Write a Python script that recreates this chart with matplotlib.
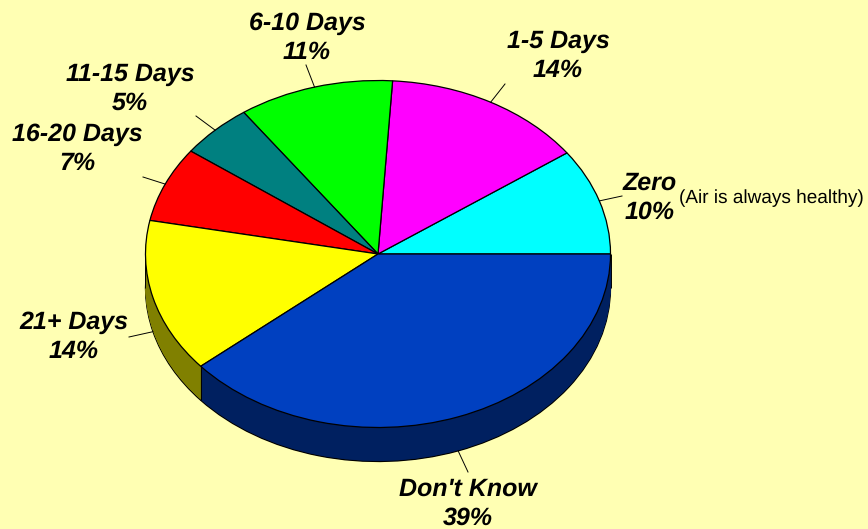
import numpy as np
import matplotlib
matplotlib.use("Agg")
import matplotlib.pyplot as plt
from matplotlib.colors import to_rgb

categories = ["Zero", "1-5 Days", "6-10 Days", "11-15 Days", "16-20 Days", "21+ Days", "Don't Know"]
values = [9.9, 14.1, 10.8, 5.1, 7.0, 14.3, 38.8]
colors = ["#00FFFF", "#FF00FF", "#00FF00", "#008080", "#FF0000", "#FFFF00", "#0040C0"]
pct_labels = ["10%", "14%", "11%", "5%", "7%", "14%", "39%"]
note = "(Air is always healthy)"

W, H = 868, 529
BG = "#FFFFB3"
CX, CY, RX, RY, DEPTH = 378, 254, 232.5, 173.5, 34

# label centres (pixels) and leader outer ends (pixels)
label_pos = [(650, 183), (558, 41), (307, 23), (130, 74), (77, 134), (74, 322), (468, 489)]
leader_end = [(622, 196), (505, 84), (306, 65), (196, 116), (143, 177), (129, 337), (468, 472)]

plt.rcParams["font.family"] = ["Liberation Sans", "DejaVu Sans"]
plt.rcParams["text.hinting"] = "none"
plt.rcParams["text.hinting_factor"] = 1
fig = plt.figure(figsize=(W / 100, H / 100), dpi=100, facecolor=BG)
ax = fig.add_axes([0, 0, 1, 1])

def X(px):
    return (px - CX) / RX

def Y(py):
    return (CY - py) / RY

d = DEPTH / RY
dark = [tuple(c * 0.5 for c in to_rgb(col)) for col in colors]

# side wall: bottom outline, then stacked fill layers
ax.pie(values, colors=dark, startangle=0, center=(0, -d), radius=1,
       wedgeprops=dict(edgecolor="black", linewidth=0.9), frame=True)
for off in np.linspace(d - 0.004, 0.004, DEPTH * 2):
    ax.pie(values, colors=dark, startangle=0, center=(0, -off), radius=1,
           wedgeprops=dict(edgecolor="none", linewidth=0), frame=True)

# top face
ax.pie(values, colors=colors, startangle=0, radius=1,
       wedgeprops=dict(edgecolor="black", linewidth=0.9), frame=True)

# vertical edges of the side wall
cum = np.cumsum([0] + values) / sum(values) * 2 * np.pi
for a in [0.0, np.pi, cum[6]]:
    ax.plot([np.cos(a)] * 2, [np.sin(a), np.sin(a) - d], color="black", lw=0.7, zorder=5,
            solid_capstyle="butt")

# leader lines and labels
for i, cat in enumerate(categories):
    mid = (cum[i] + cum[i + 1]) / 2
    x0, y0 = np.cos(mid), np.sin(mid)
    if y0 < 0:
        y0 -= d
    ex, ey = leader_end[i]
    ax.plot([x0, X(ex)], [y0, Y(ey)], color="black", lw=0.7, zorder=5)
    lx, ly = label_pos[i]
    ax.text(X(lx), Y(ly), cat, ha="center", va="center", fontsize=18.0,
            fontweight="bold", fontstyle="italic", color="black")
    ax.text(X(lx), Y(ly + 29.5), pct_labels[i], ha="center", va="center", fontsize=18.0,
            fontweight="bold", fontstyle="italic", color="black")

ax.text(X(679), Y(198), note, ha="left", va="center", fontsize=14.0, color="black")

ax.set_aspect("auto")
ax.set_xlim(X(0), X(W))
ax.set_ylim(Y(H), Y(0))
ax.axis("off")
fig.savefig("out.png", dpi=100, facecolor=BG)
